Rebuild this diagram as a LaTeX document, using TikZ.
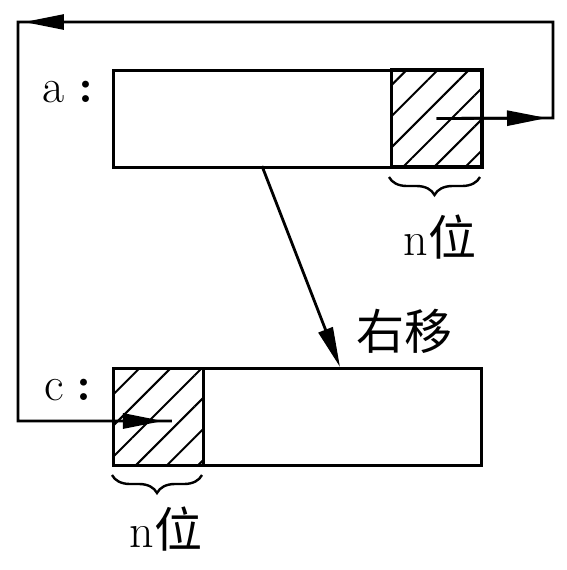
\documentclass[tikz,border=0pt]{standalone}
\usepackage{fontspec}
\usetikzlibrary{arrows.meta,patterns.meta,decorations.pathreplacing}
\newfontfamily\cjk{Noto Sans CJK SC}
\tikzset{
  reg/.style={draw,line width=1.6pt,minimum height=48.5pt,inner sep=0pt,anchor=north west},
  hatch/.style={reg,pattern={Lines[angle=45,distance=11pt,line width=1pt]}},
  arr/.style={-{Triangle[length=20pt,width=7.5pt]},line width=1.4pt},
  brc/.style={decorate,decoration={brace,mirror,amplitude=9pt},line width=1.2pt},
  lbl/.style={font=\fontsize{24}{28}\selectfont}
}
\begin{document}
\begin{tikzpicture}[x=0.5pt,y=-0.5pt]
  \useasboundingbox (0,0) rectangle (567,570);
  \node[reg,minimum width=184pt] (a) at (112,69) {};
  \node[hatch,minimum width=45.5pt,anchor=north east] (ah) at (a.north east) {};
  \node[reg,minimum width=184pt] (c) at (112,367) {};
  \node[hatch,minimum width=45pt] (ch) at (c.north west) {};
  \node[lbl] (la) at (68,92) {a\;\textbf{:}};
  \node[lbl] (lc) at (68,390) {c\;\textbf{:}};
  \node[lbl] (rs) at (405,331) {\cjk 右移};
  \node[lbl] (na) at (440,237) {n{\cjk 位}};
  \node[lbl] (nc) at (166,529) {n{\cjk 位}};
  \coordinate (r1) at (553,118);
  \coordinate (r2) at (553,22);
  \coordinate (l1) at (18,22);
  \coordinate (l2) at (18,421);
  \coordinate (e) at (172,421);
  \coordinate (s) at (262,166);
  \coordinate (t) at (340,367);
  \draw[line width=1.4pt] (ah.center) -- (r1) -- (r2) -- (l1) -- (l2) -- (e);
  \draw[arr] (ah.center) -- (547,118);
  \draw[arr] (90,22) -- (24,22);
  \draw[arr] (l2) -- (163,421);
  \draw[arr] (s) -- (t);
  \draw[brc] (389,177) -- (480,177);
  \draw[brc] (112,475) -- (202,475);
\end{tikzpicture}
\end{document}
